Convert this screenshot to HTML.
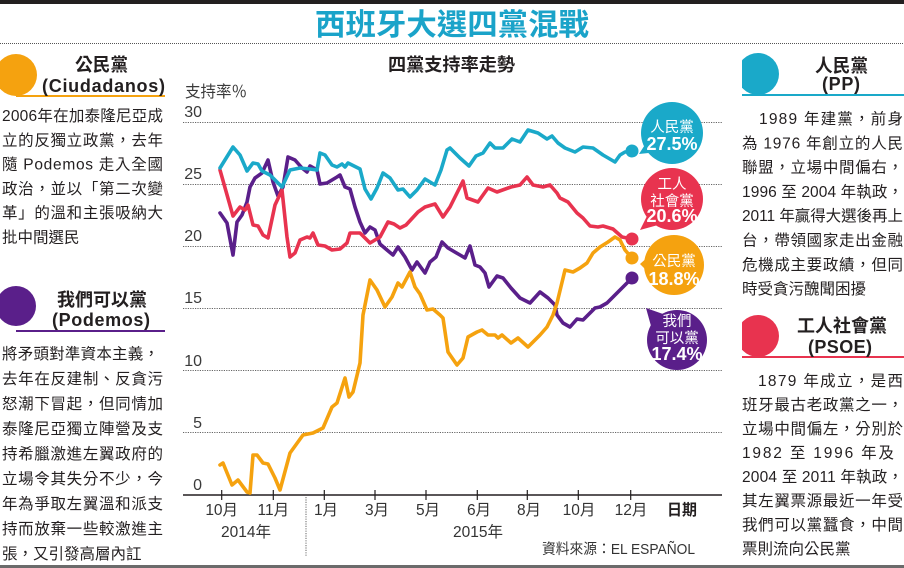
<!DOCTYPE html>
<html><head><meta charset="utf-8">
<style>
html,body{margin:0;padding:0;background:#fff;}
svg{display:block;}
text{font-family:"Liberation Sans","Noto Sans CJK TC",sans-serif;}
.b{fill:#231f20;font-size:15.5px;}
.h{fill:#231f20;font-size:18px;font-weight:bold;}
.ax{fill:#3a3a3a;font-size:16px;}
.tk{fill:#333;font-size:15.5px;}
.w{fill:#fff;font-size:14.5px;}
.wp{fill:#fff;font-size:18px;font-weight:bold;}
</style></head>
<body>
<svg width="904" height="568" viewBox="0 0 904 568" xmlns="http://www.w3.org/2000/svg">
<defs>
<clipPath id="cl"><rect x="0" y="0" width="904" height="568"/></clipPath>
<clipPath id="cr"><rect x="742" y="0" width="162" height="568"/></clipPath>
</defs>
<rect width="904" height="568" fill="#fff"/>
<rect x="0" y="0" width="904" height="4" fill="#231f20"/>
<text x="315" y="35" font-size="30" font-weight="bold" fill="#1aa3c9" textLength="274" lengthAdjust="spacingAndGlyphs">西班牙大選四黨混戰</text>
<line x1="0" y1="43.5" x2="904" y2="43.5" stroke="#555" stroke-width="1" stroke-dasharray="1 1"/>

<!-- LEFT PANEL -->
<circle cx="16" cy="75" r="21" fill="#f5a20f"/>
<line x1="16" y1="96" x2="165" y2="96" stroke="#f5a20f" stroke-width="2"/>
<text class="h" x="75" y="71" textLength="53" lengthAdjust="spacingAndGlyphs">公民黨</text>
<text class="h" x="42" y="92" textLength="123" lengthAdjust="spacing">(Ciudadanos)</text>
<text class="b" x="2" y="121" textLength="161" lengthAdjust="spacing">2006年在加泰隆尼亞成</text>
<text class="b" x="2" y="145.3" textLength="161" lengthAdjust="spacing">立的反獨立政黨，去年</text>
<text class="b" x="2" y="169.6" textLength="161" lengthAdjust="spacing">隨 Podemos 走入全國</text>
<text class="b" x="2" y="193.9" textLength="161" lengthAdjust="spacing">政治，並以「第二次變</text>
<text class="b" x="2" y="218.2" textLength="161" lengthAdjust="spacing">革」的溫和主張吸納大</text>
<text class="b" x="2" y="242.5">批中間選民</text>

<circle cx="16" cy="306" r="20" fill="#5a1f8a"/>
<line x1="16" y1="331" x2="165" y2="331" stroke="#5a1f8a" stroke-width="2"/>
<text class="h" x="57" y="306" textLength="90" lengthAdjust="spacingAndGlyphs">我們可以黨</text>
<text class="h" x="52" y="326" textLength="98" lengthAdjust="spacing">(Podemos)</text>
<text class="b" x="2" y="359" textLength="157" lengthAdjust="spacing">將矛頭對準資本主義，</text>
<text class="b" x="2" y="384" textLength="161" lengthAdjust="spacing">去年在反建制、反貪污</text>
<text class="b" x="2" y="409" textLength="161" lengthAdjust="spacing">怒潮下冒起，但同情加</text>
<text class="b" x="2" y="434" textLength="161" lengthAdjust="spacing">泰隆尼亞獨立陣營及支</text>
<text class="b" x="2" y="459" textLength="161" lengthAdjust="spacing">持希臘激進左翼政府的</text>
<text class="b" x="2" y="484" textLength="161" lengthAdjust="spacing">立場令其失分不少，今</text>
<text class="b" x="2" y="509" textLength="161" lengthAdjust="spacing">年為爭取左翼溫和派支</text>
<text class="b" x="2" y="534" textLength="161" lengthAdjust="spacing">持而放棄一些較激進主</text>
<text class="b" x="2" y="559">張，又引發高層內訌</text>

<!-- RIGHT PANEL -->
<circle cx="758" cy="74" r="21" fill="#1aa9c9" clip-path="url(#cr)"/>
<line x1="742" y1="95" x2="904" y2="95" stroke="#1aa9c9" stroke-width="2"/>
<text class="h" x="815" y="72" textLength="53" lengthAdjust="spacingAndGlyphs">人民黨</text>
<text class="h" x="822" y="90" textLength="38" lengthAdjust="spacing">(PP)</text>
<text class="b" x="759" y="124" textLength="144" lengthAdjust="spacing">1989 年建黨，前身</text>
<text class="b" x="742" y="148.3" textLength="161" lengthAdjust="spacing">為 1976 年創立的人民</text>
<text class="b" x="742" y="172.6" textLength="161" lengthAdjust="spacing">聯盟，立場中間偏右，</text>
<text class="b" x="742" y="196.9" textLength="161" lengthAdjust="spacing">1996 至 2004 年執政，</text>
<text class="b" x="742" y="221.2" textLength="161" lengthAdjust="spacing">2011 年贏得大選後再上</text>
<text class="b" x="742" y="245.5" textLength="161" lengthAdjust="spacing">台，帶領國家走出金融</text>
<text class="b" x="742" y="269.8" textLength="161" lengthAdjust="spacing">危機成主要政績，但同</text>
<text class="b" x="742" y="294.1">時受貪污醜聞困擾</text>

<circle cx="758" cy="336" r="21" fill="#e8334f" clip-path="url(#cr)"/>
<line x1="742" y1="357" x2="904" y2="357" stroke="#e8334f" stroke-width="2"/>
<text class="h" x="797" y="332" textLength="90" lengthAdjust="spacingAndGlyphs">工人社會黨</text>
<text class="h" x="808" y="353" textLength="64" lengthAdjust="spacing">(PSOE)</text>
<text class="b" x="758" y="386" textLength="145" lengthAdjust="spacing">1879 年成立，是西</text>
<text class="b" x="742" y="410" textLength="161" lengthAdjust="spacing">班牙最古老政黨之一，</text>
<text class="b" x="742" y="434" textLength="161" lengthAdjust="spacing">立場中間偏左，分別於</text>
<text class="b" x="742" y="458" textLength="152" lengthAdjust="spacing">1982 至 1996 年及</text>
<text class="b" x="742" y="482" textLength="161" lengthAdjust="spacing">2004 至 2011 年執政，</text>
<text class="b" x="742" y="506" textLength="161" lengthAdjust="spacing">其左翼票源最近一年受</text>
<text class="b" x="742" y="530" textLength="161" lengthAdjust="spacing">我們可以黨蠶食，中間</text>
<text class="b" x="742" y="554">票則流向公民黨</text>

<!-- CHART -->
<text x="388" y="71" font-size="18" font-weight="bold" fill="#231f20" textLength="127" lengthAdjust="spacingAndGlyphs">四黨支持率走勢</text>
<text class="ax" x="185" y="97" textLength="62" lengthAdjust="spacingAndGlyphs">支持率％</text>

<g stroke="#666" stroke-width="1" stroke-dasharray="1.2 1.2">
<line x1="183" y1="122.5" x2="722" y2="122.5"/>
<line x1="183" y1="184.5" x2="722" y2="184.5"/>
<line x1="183" y1="246.5" x2="722" y2="246.5"/>
<line x1="183" y1="308.5" x2="722" y2="308.5"/>
<line x1="183" y1="370.5" x2="722" y2="370.5"/>
<line x1="183" y1="432.5" x2="722" y2="432.5"/>
<line x1="306" y1="497" x2="306" y2="557"/>
</g>
<line x1="183" y1="495" x2="722" y2="495" stroke="#231f20" stroke-width="1.5"/>

<g class="ax" text-anchor="end">
<text class="ax" x="202" y="117">30</text>
<text class="ax" x="202" y="179">25</text>
<text class="ax" x="202" y="241">20</text>
<text class="ax" x="202" y="303">15</text>
<text class="ax" x="202" y="366">10</text>
<text class="ax" x="202" y="428">5</text>
<text class="ax" x="202" y="490">0</text>
</g>

<g stroke="#231f20" stroke-width="1.2">
<line x1="221.7" y1="490" x2="221.7" y2="500"/>
<line x1="273.3" y1="490" x2="273.3" y2="500"/>
<line x1="324.3" y1="490" x2="324.3" y2="500"/>
<line x1="375" y1="490" x2="375" y2="500"/>
<line x1="426" y1="490" x2="426" y2="500"/>
<line x1="477.3" y1="490" x2="477.3" y2="500"/>
<line x1="527.3" y1="490" x2="527.3" y2="500"/>
<line x1="578.3" y1="490" x2="578.3" y2="500"/>
<line x1="630.7" y1="490" x2="630.7" y2="500"/>
</g>
<g text-anchor="middle">
<text class="tk" x="221.7" y="515">10月</text>
<text class="tk" x="273.3" y="515">11月</text>
<text class="tk" x="326" y="515">1月</text>
<text class="tk" x="377" y="515">3月</text>
<text class="tk" x="428" y="515">5月</text>
<text class="tk" x="479" y="515">6月</text>
<text class="tk" x="529" y="515">8月</text>
<text class="tk" x="579" y="515">10月</text>
<text class="tk" x="631" y="515">12月</text>
<text class="tk" x="246" y="537">2014年</text>
<text class="tk" x="478" y="537">2015年</text>
</g>
<text x="667" y="515" font-size="15.5" font-weight="bold" fill="#231f20" textLength="30" lengthAdjust="spacingAndGlyphs">日期</text>
<text x="542" y="554" font-size="14.5" fill="#333" textLength="153" lengthAdjust="spacingAndGlyphs">資料來源：EL ESPAÑOL</text>

<g fill="none" stroke-width="3.6" stroke-linejoin="round" stroke-linecap="round">
<polyline stroke="#5a1f8a" points="220,213 227,223 233,255 237,222 242,215 247,202 250,187 255,178 262,173 268,160 273,182 278,196 283,187 288,157 295,160 302,168 307,172 310,166 317,170 320,184 327,183 337,177 340,175 345,187 350,189 355,207 360,222 365,233 370,227 375,230 380,244 387,250 393,255 398,247 405,257 412,270 417,262 425,273 430,262 436,257 442,242 448,248 460,255 465,258 470,246 475,265 480,267 485,273 489,287 497,276 503,278 511,288 520,298 530,303 540,292 548,298 555,305 557,315 563,323 570,327 577,319 583,320 588,315 595,308 600,307 607,303 613,297 620,290 627,283 632,278"/>
<polyline stroke="#e8334f" points="220,170 233,216 240,207 245,210 248,205 253,225 258,226 263,235 268,238 275,205 282,190 287,237 290,257 295,253 300,240 307,237 310,238 313,233 318,245 325,246 332,250 340,249 347,243 350,233 360,233 370,243 380,237 388,222 394,224 400,228 406,225 418,212 425,207 435,204 443,217 450,207 463,181 467,198 478,202 488,188 497,192 511,187 520,185 527,177 533,185 543,187 550,185 557,193 560,198 568,202 577,213 583,218 590,226 598,227 603,226 613,229 622,237 632,239"/>
<polyline stroke="#1aa9c9" points="220,168 233,147 240,155 247,171 253,163 258,164 262,171 270,175 275,180 282,187 290,170 300,168 310,169 317,170 320,153 325,155 332,165 337,167 342,164 345,167 348,163 360,169 365,189 371,199 377,188 383,173 390,178 398,190 403,189 410,197 417,190 425,179 435,185 441,170 447,150 450,148 460,158 469,166 476,156 483,153 490,143 495,148 503,148 512,139 520,142 528,130 538,133 547,139 552,136 558,143 565,148 575,152 583,147 593,148 603,155 615,162 620,155 625,152 632,151"/>
<polyline stroke="#f5a20f" points="220,465 223,463 232,485 238,480 247,492 250,493 253,455 257,455 263,463 268,464 275,478 280,490 290,453 303,435 313,433 323,428 332,407 337,403 345,378 349,397 353,392 360,363 363,315 370,280 377,290 385,307 392,297 398,283 402,287 410,272 415,287 420,294 427,310 433,309 440,315 443,318 448,352 457,365 463,358 468,337 477,332 482,330 488,335 495,335 498,338 502,335 511,343 518,338 528,347 540,335 547,327 553,315 557,303 565,270 573,272 580,268 587,263 593,253 600,247 608,242 615,237 620,240 625,250 632,258"/>
</g>
<circle cx="632" cy="151" r="6.5" fill="#1aa9c9"/>
<circle cx="632" cy="239" r="6.5" fill="#e8334f"/>
<circle cx="632" cy="258" r="6.5" fill="#f5a20f"/>
<circle cx="632" cy="278" r="6.5" fill="#5a1f8a"/>

<!-- Bubbles -->
<circle cx="672" cy="133" r="31" fill="#1aa9c9"/>
<polygon points="648,140 639,154 658,152" fill="#1aa9c9"/>
<text class="w" x="672" y="132" text-anchor="middle">人民黨</text>
<text class="wp" x="672" y="150" text-anchor="middle">27.5%</text>

<circle cx="672" cy="199" r="31" fill="#e8334f"/>
<polygon points="648,214 640,230 658,225" fill="#e8334f"/>
<text class="w" x="672" y="189" text-anchor="middle">工人</text>
<text class="w" x="672" y="206" text-anchor="middle">社會黨</text>
<text class="wp" x="672" y="222" text-anchor="middle">20.6%</text>

<circle cx="674" cy="265" r="30" fill="#f5a20f"/>
<polygon points="649,256 640,264 649,273" fill="#f5a20f"/>
<text class="w" x="674" y="266" text-anchor="middle">公民黨</text>
<text class="wp" x="674" y="285" text-anchor="middle">18.8%</text>

<circle cx="677" cy="340" r="30" fill="#5a1f8a"/>
<polygon points="646,308 663,314 651,326" fill="#5a1f8a"/>
<text class="w" x="677" y="326" text-anchor="middle">我們</text>
<text class="w" x="677" y="343" text-anchor="middle">可以黨</text>
<text class="wp" x="677" y="360" text-anchor="middle">17.4%</text>

<rect x="0" y="565" width="904" height="3" fill="#6b6b6b"/>
</svg>
</body></html>
